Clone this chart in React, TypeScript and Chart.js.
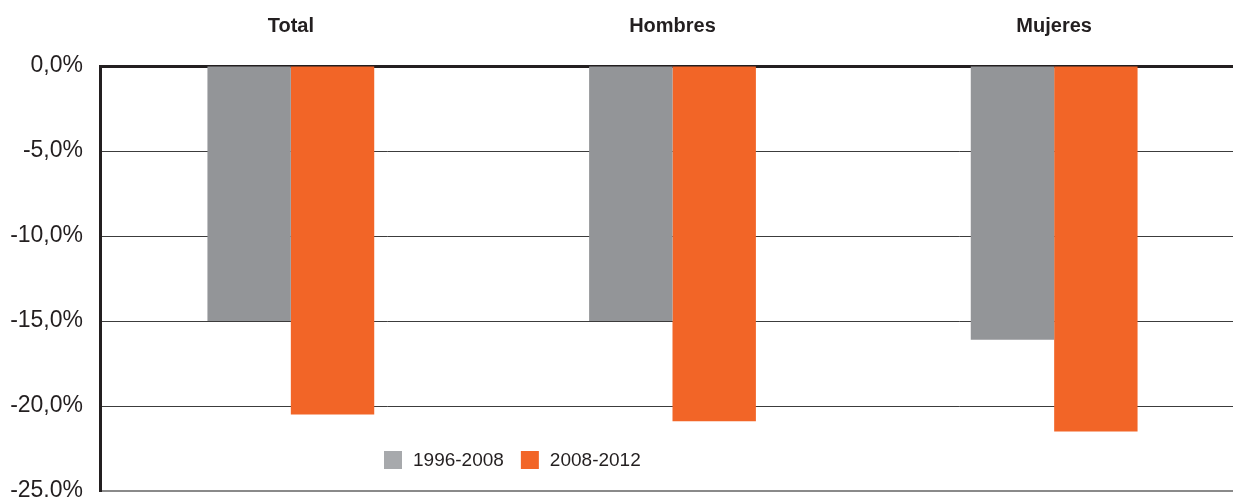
import React, { useEffect, useRef } from "react";
import { Chart, registerables } from "chart.js";

Chart.register(...registerables);

const categories = ["Total", "Hombres", "Mujeres"];
const serie1996_2008 = [-15.0, -15.0, -16.1];
const serie2008_2012 = [-20.5, -20.9, -21.5];
const seriesLabels = ["1996-2008", "2008-2012"];
const yMin = -25;
const yMax = 0;
const yStep = 5;

const GRAY = "#939598";
const ORANGE = "#F26527";
const DARK = "#231F20";

const fmt = (v: number) => {
  const s = Math.abs(v).toFixed(1).replace(".", ",") + "%";
  return v < 0 ? "-" + s : s;
};

const innerLegend = {
  id: "innerLegend",
  afterDraw(chart: any) {
    const ctx = chart.ctx;
    const ds = chart.data.datasets;
    ctx.save();
    ctx.font = "19px 'Liberation Sans', Arial, sans-serif";
    ctx.textBaseline = "middle";
    ctx.textAlign = "left";
    let x = 384;
    const cy = 460;
    const box = 18;
    ds.forEach((d: any, i: number) => {
      ctx.fillStyle = i === 0 ? "#A7A9AC" : d.backgroundColor;
      ctx.fillRect(x, cy - box / 2, box, box);
      x += box + 11;
      ctx.fillStyle = DARK;
      ctx.fillText(d.label, x, cy + 1);
      x += ctx.measureText(d.label).width + 17;
    });
    ctx.restore();
  },
};

export default function App() {
  const ref = useRef<HTMLCanvasElement | null>(null);
  useEffect(() => {
    if (!ref.current) return;
    const chart = new Chart(ref.current, {
      type: "bar",
      data: {
        labels: categories,
        datasets: [
          {
            label: seriesLabels[0],
            data: serie1996_2008,
            backgroundColor: GRAY,
            categoryPercentage: 0.437,
            barPercentage: 1,
          },
          {
            label: seriesLabels[1],
            data: serie2008_2012,
            backgroundColor: ORANGE,
            categoryPercentage: 0.437,
            barPercentage: 1,
          },
        ],
      },
      options: {
        responsive: false,
        animation: false,
        layout: { padding: { left: 0, right: 0, top: 0, bottom: 6 } },
        plugins: { legend: { display: false }, tooltip: { enabled: false } },
        scales: {
          x: {
            position: "top",
            grid: { display: false, drawTicks: false },
            border: { display: true, color: DARK, width: 3 },
            ticks: {
              padding: 28,
              color: DARK,
              font: { family: "'Liberation Sans', Arial, sans-serif", size: 20, weight: "bold" },
            },
            afterFit: (s: any) => {
              s.height = 66;
              s.paddingLeft = 0;
              s.paddingRight = 0;
            },
          },
          y: {
            min: yMin,
            max: yMax,
            grid: {
              drawTicks: false,
              color: (c: any) => (c.tick && c.tick.value === yMin ? "#8a8a8a" : "#3c3c3c"),
              lineWidth: (c: any) => (c.tick && c.tick.value === yMin ? 2 : 1),
            },
            border: { display: true, color: DARK, width: 3 },
            ticks: {
              stepSize: yStep,
              padding: 17,
              color: DARK,
              font: { family: "'Liberation Sans', Arial, sans-serif", size: 23 },
              callback: (v: any) => fmt(Number(v)),
            },
            afterFit: (s: any) => {
              s.width = 100;
              s.paddingTop = 0;
              s.paddingBottom = 0;
            },
          },
        },
      },
      plugins: [innerLegend],
    });
    return () => chart.destroy();
  }, []);
  return (
    <div
      style={{
        position: "absolute",
        left: 0,
        top: 0,
        width: 1233,
        height: 497,
        overflow: "hidden",
        background: "#fff",
      }}
    >
      <canvas ref={ref} width={1245} height={497} />
    </div>
  );
}
